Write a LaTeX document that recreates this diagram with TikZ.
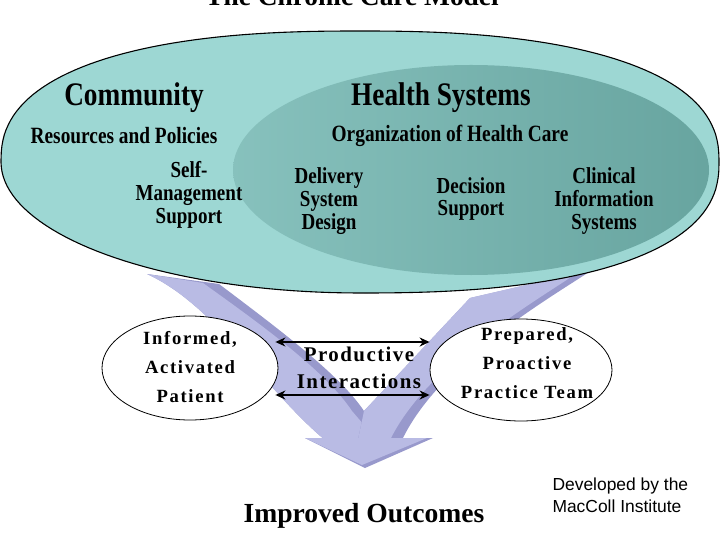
\documentclass[tikz,border=0pt]{standalone}
\usepackage{fontspec}
\setmainfont{Liberation Serif}
\setsansfont{Liberation Sans}
\newfontfamily\narrowserif[FakeStretch=0.83]{Liberation Serif}
\newfontfamily\spacedserif[LetterSpace=9]{Liberation Serif}
\newfontfamily\spacedserifb[LetterSpace=7]{Liberation Serif}
\usetikzlibrary{arrows.meta,shapes.geometric}

\definecolor{tealouter}{RGB}{157,215,211}
\definecolor{tealmid}{RGB}{150,207,203}
\definecolor{tealdark}{RGB}{103,164,159}
\definecolor{lavlight}{RGB}{185,187,228}
\definecolor{lavdark}{RGB}{152,153,204}

\tikzset{
	heading/.style={font=\narrowserif\bfseries\fontsize{33}{36}\selectfont},
	subheading/.style={font=\narrowserif\bfseries\fontsize{23.4}{26}\selectfont},
	element/.style={align=center,font=\narrowserif\bfseries\fontsize{23}{23}\selectfont},
	party/.style={ellipse,draw,fill=white,line width=0.8bp,inner sep=0pt},
	partytext/.style={align=center,font=\spacedserif\bfseries\fontsize{18.7}{29}\selectfont},
	twoway/.style={<->,line width=1.6bp}
}

\begin{document}
\begin{tikzpicture}[x=1bp,y=-1bp,>={Stealth[length=10bp,width=9bp]}]

\def\ex{0.83}

\useasboundingbox (0,0) rectangle (720,540);
\fill[white] (0,0) rectangle (720,540);
\clip (0,0) rectangle (720,540);

% Titel, oben abgeschnitten
\node[anchor=base,font=\bfseries\fontsize{27.5}{30}\selectfont] (title) at (352,6) {The Chronic Care Model};

% V-Pfeil
\fill[lavdark] (147,274) -- (219,284) .. controls (280,330) and (340,375) .. (364,411)
	-- (370,440) -- (325,440) .. controls (265,390) and (215,305) .. cycle;
\fill[lavlight] (147,274) -- (203,283) .. controls (266,328) and (326,372) .. (352,411)
	-- (364,425) -- (370,440) -- (325,440) .. controls (265,390) and (215,305) .. cycle;
\fill[lavdark] (592,270) .. controls (555,295) and (440,360) .. (402,440)
	-- (358,440) -- (364,411) -- (470,298) -- cycle;
\fill[lavlight] (577,273) .. controls (541,298) and (428,362) .. (390,440)
	-- (358,440) -- (364,411) -- (470,298) -- cycle;
\fill[lavdark] (305,438) -- (433,438) -- (365,468) -- cycle;
\fill[lavlight] (305,438) -- (427,438) -- (362,465) -- cycle;

% grosse Ellipse (oben und rechts unten etwas voller)
\draw[fill=tealouter,line width=1.1bp,
	path picture={\shade[left color=tealmid,right color=tealdark]
		(471,170) ellipse [x radius=238bp, y radius=105bp];}]
	plot[domain=0.5:179.5,samples=90]
		({360+359*sign(cos(\x))*abs(cos(\x))^\ex},{162-131*abs(sin(\x))^\ex})
	-- plot[domain=180.5:269.5,samples=45] ({360+359*cos(\x)},{162-131*sin(\x)})
	-- plot[domain=270.5:359.5,samples=45]
		({360+359*abs(cos(\x))^\ex},{162+131*abs(sin(\x))^\ex})
	-- cycle;

\node[heading] (community) at (134,98) {Community};
\node[heading] (health) at (441,98) {Health Systems};
\node[subheading] (resources) at (124,136) {Resources and Policies};
\node[subheading] (organization) at (450,136) {Organization of Health Care};
\node[element] (selfmgmt) at (189,195) {Self-\\Management\\Support};
\node[element] (delivery) at (329,201) {Delivery\\System\\Design};
\node[element] (decision) at (471,199) {Decision\\Support};
\node[element] (clinical) at (604,201) {Clinical\\Information\\Systems};

% Patient und Team
\node[party,minimum width=176bp,minimum height=104bp] (patient) at (190,368) {};
\node[partytext] (patienttext) at (190,367) {Informed,\\Activated\\Patient};
\node[party,minimum width=182bp,minimum height=102bp] (team) at (521,370) {};
\node[partytext] (teamtext) at (527,363) {Prepared,\\Proactive\\Practice Team};

\node[align=center,font=\spacedserifb\bfseries\fontsize{21}{27}\selectfont] (productive) at (359,368) {Productive\\Interactions};

\coordinate (linkTopL) at ([xshift=-3bp,yshift=26bp]patient.east);
\coordinate (linkTopR) at (linkTopL -| team.west);
\coordinate (linkBotL) at ([xshift=-3bp,yshift=-27bp]patient.east);
\coordinate (linkBotR) at (linkBotL -| team.west);
\draw[twoway] (linkTopL) -- (linkTopR);
\draw[twoway] (linkBotL) -- (linkBotR);

\node[font=\bfseries\fontsize{27.7}{30}\selectfont] (outcomes) at (364,516) {Improved Outcomes};
\node[anchor=west,align=left,font=\sffamily\fontsize{17.5}{22}\selectfont] (maccoll) at (549,495) {Developed by the\\MacColl Institute};

\end{tikzpicture}
\end{document}
